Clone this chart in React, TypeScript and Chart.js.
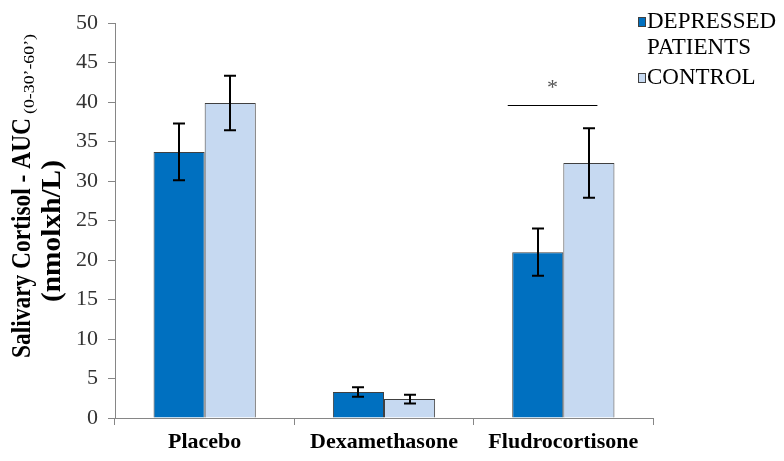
import React, { useEffect, useRef } from 'react';
import { Chart, registerables } from 'chart.js';

Chart.register(...registerables);

const categories = ['Placebo', 'Dexamethasone', 'Fludrocortisone'];
const depressed = [33.7, 3.3, 21.0];
const depressedErr = [3.6, 0.6, 3.0];
const control = [39.9, 2.4, 32.3];
const controlErr = [3.45, 0.55, 4.4];
const seriesNames = ['DEPRESSED\nPATIENTS', 'CONTROL'];
const seriesColors = ['#0070C0', '#C6D9F1'];
const yMin = 0;
const yMax = 50;
const yStep = 5;
// significance bracket over Fludrocortisone
const sigValue = 39.6;
const sigFrom = 1.69; // category index units
const sigTo = 2.19;
const sigStarValue = 42.3;
const sigLabel = '*';

const titleMain = 'Salivary Cortisol - AUC';
const titleSub = "(0-30\u2019-60\u2019)";
const titleLine2 = '(nmolxh/L)';

const SERIF = '"Liberation Serif", "Times New Roman", serif';

export default function App() {
  const ref = useRef<HTMLCanvasElement>(null);

  useEffect(() => {
    document.body.style.margin = '0';
    const canvas = ref.current!;

    const errorBars = {
      id: 'errorBars',
      afterDatasetsDraw(chart: any) {
        const { ctx } = chart;
        const y = chart.scales.y;
        const errs = [depressedErr, controlErr];
        chart.data.datasets.forEach((ds: any, di: number) => {
          const meta = chart.getDatasetMeta(di);
          meta.data.forEach((bar: any, i: number) => {
            const v = ds.data[i];
            const e = errs[di][i];
            const yt = y.getPixelForValue(v + e);
            const yb = y.getPixelForValue(v - e);
            const x = Math.round(bar.x);
            ctx.save();
            ctx.strokeStyle = '#000';
            ctx.lineWidth = 2;
            ctx.beginPath();
            ctx.moveTo(x, yt);
            ctx.lineTo(x, yb);
            ctx.moveTo(x - 6, yt);
            ctx.lineTo(x + 6, yt);
            ctx.moveTo(x - 6, yb);
            ctx.lineTo(x + 6, yb);
            ctx.stroke();
            ctx.restore();
          });
        });
      },
    };

    const extras = {
      id: 'extras',
      afterDraw(chart: any) {
        const { ctx } = chart;
        const x = chart.scales.x;
        const y = chart.scales.y;
        // significance
        ctx.save();
        ctx.strokeStyle = '#000';
        ctx.lineWidth = 1.2;
        const yy = Math.round(y.getPixelForValue(sigValue)) + 0.5;
        ctx.beginPath();
        ctx.moveTo(x.getPixelForValue(sigFrom), yy);
        ctx.lineTo(x.getPixelForValue(sigTo), yy);
        ctx.stroke();
        ctx.fillStyle = '#555';
        ctx.font = 'normal 22px ' + SERIF;
        ctx.textAlign = 'center';
        ctx.textBaseline = 'middle';
        ctx.fillText(sigLabel, x.getPixelForValue((sigFrom + sigTo) / 2), y.getPixelForValue(sigStarValue) + 4);
        ctx.restore();

        // legend
        ctx.save();
        ctx.font = 'normal 23px ' + SERIF;
        ctx.textAlign = 'left';
        ctx.textBaseline = 'middle';
        let ly = 22;
        seriesNames.forEach((name, i) => {
          ctx.fillStyle = seriesColors[i];
          ctx.fillRect(638, ly - 5, 8, 10);
          ctx.strokeStyle = '#404040';
          ctx.lineWidth = 1;
          ctx.strokeRect(638.5, ly - 4.5, 7, 9);
          ctx.fillStyle = '#000';
          name.split('\n').forEach((ln) => {
            ctx.fillText(ln, 647, ly);
            ly += 26;
          });
          ly += 4;
        });
        ctx.restore();

        // y title (rotated)
        const drawRot = (text: string, font: string, bx: number, startY: number, len: number) => {
          ctx.save();
          ctx.font = font;
          const w = ctx.measureText(text).width;
          ctx.translate(bx, startY);
          ctx.rotate(-Math.PI / 2);
          ctx.scale(len / w, 1);
          ctx.textAlign = 'left';
          ctx.textBaseline = 'alphabetic';
          ctx.fillStyle = '#000';
          ctx.fillText(text, 0, 0);
          ctx.restore();
        };
        drawRot(titleMain, 'bold 28px ' + SERIF, 30, 358, 240);
        drawRot(titleSub, 'normal 14px ' + SERIF, 34, 114, 80);
        drawRot(titleLine2, 'bold 28px ' + SERIF, 60, 302, 142);
      },
    };

    const chart = new Chart(canvas, {
      type: 'bar',
      data: {
        labels: categories,
        datasets: [
          {
            label: 'DEPRESSED PATIENTS',
            data: depressed,
            backgroundColor: seriesColors[0],
            borderColor: '#404040',
            borderWidth: 1,
            categoryPercentage: 0.57,
            barPercentage: 1,
          },
          {
            label: 'CONTROL',
            data: control,
            backgroundColor: seriesColors[1],
            borderColor: '#404040',
            borderWidth: 1,
            categoryPercentage: 0.57,
            barPercentage: 1,
          },
        ],
      },
      options: {
        responsive: false,
        animation: false,
        devicePixelRatio: 1,
        layout: { padding: { left: 0, right: 131, top: 15, bottom: 0 } },
        plugins: { legend: { display: false }, tooltip: { enabled: false }, title: { display: false } },
        scales: {
          x: {
            afterFit: (s: any) => { s.height = 43; },
            grid: { offset: true, drawOnChartArea: false, drawTicks: true, tickLength: 7, color: '#868686' },
            border: { color: '#868686', width: 1 },
            ticks: {
              color: '#000',
              padding: 4,
              font: { family: SERIF, size: 22, weight: 'bold' },
            },
          },
          y: {
            min: yMin,
            max: yMax,
            afterFit: (s: any) => { s.width = 115; },
            grid: { drawOnChartArea: false, drawTicks: true, tickLength: 7, color: '#868686' },
            border: { color: '#868686', width: 1 },
            ticks: {
              stepSize: yStep,
              color: '#333',
              padding: 10,
              font: { family: SERIF, size: 22 },
            },
          },
        },
      },
      plugins: [errorBars, extras],
    });
    return () => chart.destroy();
  }, []);

  return (
    <div style={{ width: 784, height: 461, background: '#fff' }}>
      <canvas ref={ref} width={784} height={461} style={{ width: 784, height: 461, display: 'block' }} />
    </div>
  );
}
